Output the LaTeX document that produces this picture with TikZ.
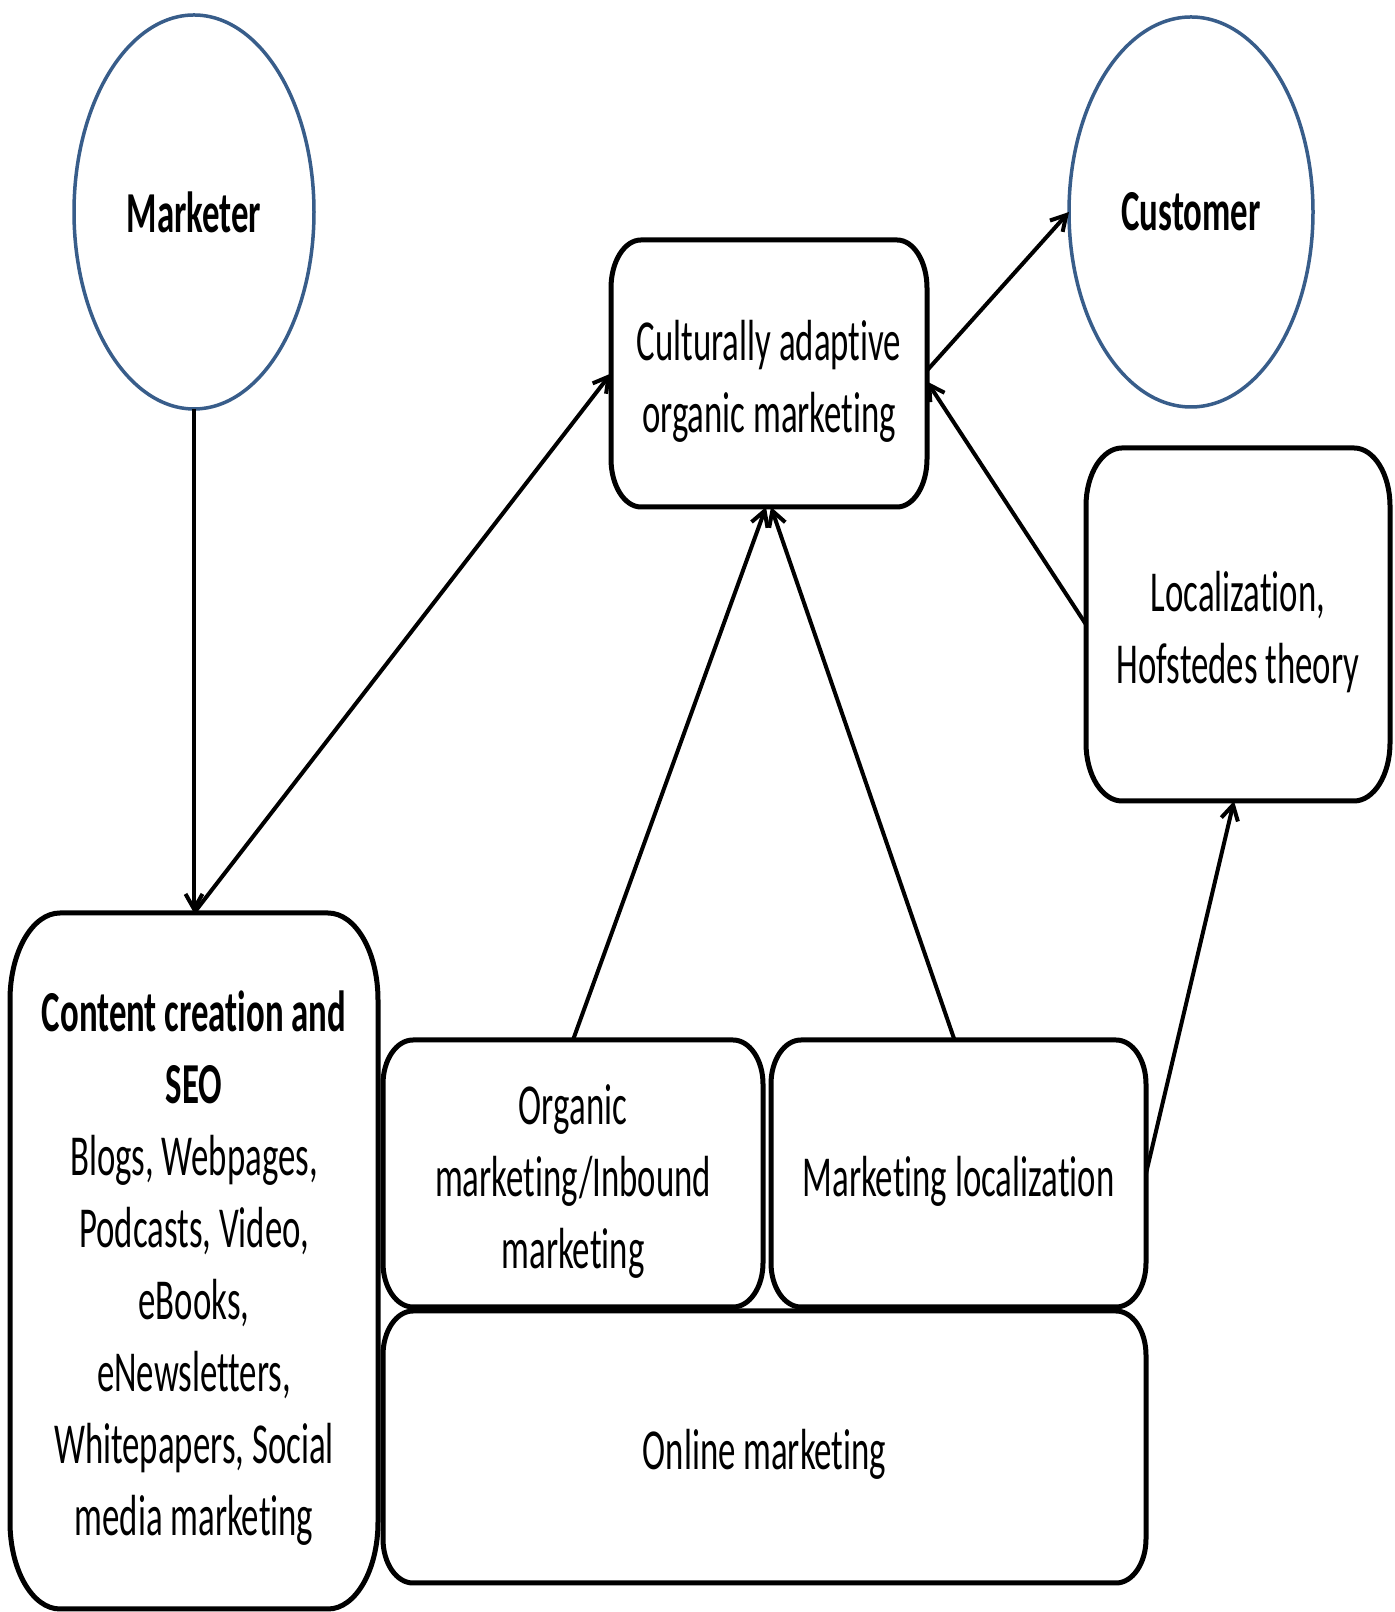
\documentclass[tikz,border=0pt]{standalone}
\usepackage{fontspec}
\setmainfont[FakeStretch=0.6,Ligatures=NoCommon]{Carlito}
\usetikzlibrary{arrows.meta,shapes.geometric,calc}
\definecolor{ringblue}{RGB}{56,93,138}

% frame with elliptical corners around a (borderless) rectangular node
\newcommand\roundframe[3]{%
  \draw[boxline] ($(#1.north west)+(#2,0)$) -- ($(#1.north east)+(-#2,0)$)
    arc[start angle=90,end angle=0,x radius=#2,y radius=#3]
    -- ($(#1.south east)+(0,#3)$)
    arc[start angle=0,end angle=-90,x radius=#2,y radius=#3]
    -- ($(#1.south west)+(#2,0)$)
    arc[start angle=270,end angle=180,x radius=#2,y radius=#3]
    -- ($(#1.north west)+(0,-#3)$)
    arc[start angle=180,end angle=90,x radius=#2,y radius=#3]
    -- cycle;}
% tall strut on a first line, so the text block sits by its line metrics
\newcommand\upline{\rule{0pt}{55pt}}

\begin{document}
\begin{tikzpicture}[x=1pt,y=1pt,
  txt/.style={font=\fontsize{58}{72}\selectfont, align=center, inner sep=0pt, outer sep=0pt},
  ring/.style={txt, ellipse, draw=ringblue, line width=3.5pt,
               minimum width=240pt, minimum height=394pt},
  panel/.style={txt, rectangle},
  boxline/.style={line width=5pt, line join=round},
  link/.style={line width=4pt, -{Straight Barb[length=15pt,width=17pt]}}]

\fill[white] (0,0) rectangle (1395,1612);
\useasboundingbox (0,0) rectangle (1395,1612);

% actors
\node[ring] (mk) at (194,1400) {\textbf{Marketer}};
\node[ring, minimum width=244pt, minimum height=390pt] (cu) at (1191,1400) {\textbf{Customer}};

% boxes
\node[panel, minimum width=316pt, minimum height=267pt] (cam) at (769,1238.5)
  {\upline Culturally adaptive\\organic marketing};
\node[panel, minimum width=304pt, minimum height=353pt] (loc) at (1238,987.5)
  {\upline Localization,\\Hofstedes theory};
\node[panel, minimum width=368pt, minimum height=696pt] (ccs) at (194,351)
  {\upline\textbf{Content creation and}\\\textbf{SEO}\\Blogs, Webpages,\\Podcasts, Video,\\eBooks,\\eNewsletters,\\Whitepapers, Social\\media marketing};
\node[panel, minimum width=380pt, minimum height=267pt] (org) at (573,438.5)
  {\upline Organic\\marketing/Inbound\\marketing};
\node[panel, minimum width=375pt, minimum height=267pt] (ml) at (958.5,438.5)
  {\upline Marketing localization};
\node[panel, minimum width=763pt, minimum height=272pt] (onl) at (764.5,165)
  {\upline Online marketing};

\roundframe{cam}{30}{48}
\roundframe{loc}{36}{58}
\roundframe{ccs}{50}{87}
\roundframe{org}{30}{44}
\roundframe{ml}{30}{44}
\roundframe{onl}{30}{44}

% connectors
\draw[link] (mk.south) -- (ccs.north);
\draw[link] (ccs.north) -- (cam.west);
\draw[link] ([yshift=3pt]cam.east) -- (cu.west);
\draw[link] (loc.west) -- ([yshift=-8pt]cam.east);
\draw[link] (org.north) -- ([xshift=-3pt]cam.south);
\draw[link] ([xshift=-4pt]ml.north) -- ([xshift=2pt]cam.south);
\draw[link] (ml.east) -- ([xshift=-4pt]loc.south);

\end{tikzpicture}
\end{document}
